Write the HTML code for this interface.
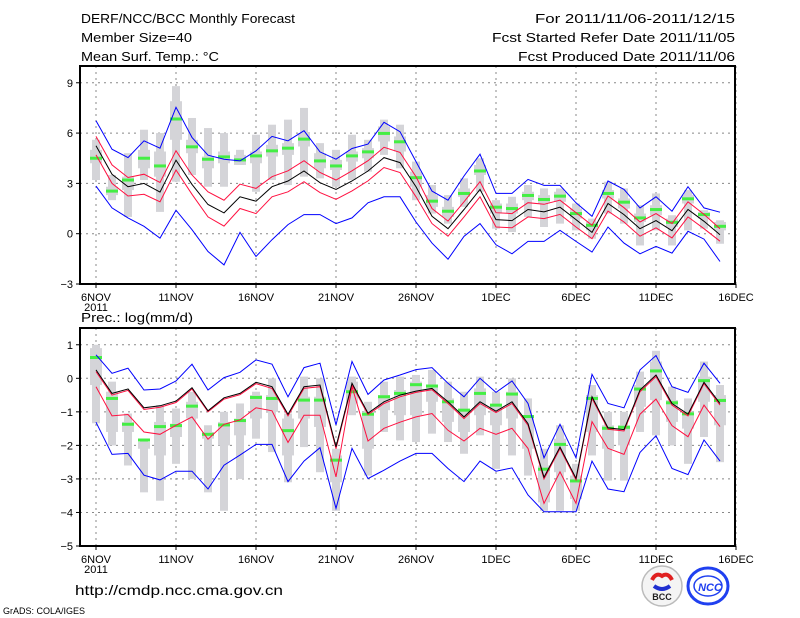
<!DOCTYPE html>
<html><head><meta charset="utf-8"><style>
html,body{margin:0;padding:0;background:#fff;}
svg{display:block;font-family:"Liberation Sans",sans-serif;}
</style></head><body>
<svg id="chart" width="800" height="618" viewBox="0 0 800 618" xmlns="http://www.w3.org/2000/svg">
<g font-size="13" fill="#000">
<text x="81" y="23" textLength="214" lengthAdjust="spacingAndGlyphs">DERF/NCC/BCC Monthly Forecast</text>
<text x="81" y="42" textLength="111" lengthAdjust="spacingAndGlyphs">Member Size=40</text>
<text x="81" y="61" textLength="138" lengthAdjust="spacingAndGlyphs">Mean Surf. Temp.: °C</text>
<text x="735" y="23" text-anchor="end" textLength="200" lengthAdjust="spacingAndGlyphs">For 2011/11/06-2011/12/15</text>
<text x="735" y="42" text-anchor="end" textLength="243" lengthAdjust="spacingAndGlyphs">Fcst Started Refer Date 2011/11/05</text>
<text x="735" y="61" text-anchor="end" textLength="217" lengthAdjust="spacingAndGlyphs">Fcst Produced Date 2011/11/06</text>
<text x="81" y="322" textLength="112" lengthAdjust="spacingAndGlyphs">Prec.: log(mm/d)</text>
</g>
<g id="top"></g>
<g id="bot"></g>
<text x="75" y="595" font-size="14" textLength="208" lengthAdjust="spacingAndGlyphs">http://cmdp.ncc.cma.gov.cn</text>
<text x="3" y="614" font-size="9">GrADS: COLA/IGES</text>
<g>
<circle cx="662" cy="586" r="20" fill="#f4f4f4" stroke="#bbb" stroke-width="1.5"/>
<path d="M652 580 q4 -8 10 -4 q6 -4 10 4" fill="none" stroke="#e02020" stroke-width="4"/>
<path d="M654 586 q8 6 16 0" fill="none" stroke="#2030d0" stroke-width="4"/>
<text x="662" y="600" font-size="9" font-weight="bold" text-anchor="middle" fill="#222">BCC</text>
</g>
<g>
<ellipse cx="708" cy="586" rx="20" ry="18" fill="#fff" stroke="#2040f0" stroke-width="3"/>
<ellipse cx="708" cy="586" rx="14" ry="10" fill="none" stroke="#2040f0" stroke-width="1.5"/>
<text x="710" y="591" font-size="11" font-weight="bold" font-style="italic" text-anchor="middle" fill="#2040f0">NCC</text>
</g>
</svg>
<script>
// ---- temperature panel data (°C) ----
const days = ["6NOV","11NOV","16NOV","21NOV","26NOV","1DEC","6DEC","11DEC","16DEC"];
const tYTicks = [-3,0,3,6,9];
const tMean = [5.24,3.54,2.8,3.0,2.48,4.38,2.94,1.74,1.24,2.2,1.94,2.8,3.14,3.74,3.04,2.64,3.14,3.74,4.54,4.24,2.8,1.04,0.3,1.44,2.64,0.84,0.78,1.44,1.3,1.58,0.84,0.08,1.8,1.14,0.3,0.78,0.18,1.44,0.74,-0.06];
const tRedHi = [5.8,4.1,3.35,3.55,3.05,4.95,3.5,2.5,2.0,2.95,2.7,3.4,3.75,4.35,3.65,3.2,3.75,4.35,5.15,4.85,3.4,1.5,0.75,1.9,3.1,1.25,1.2,1.85,1.75,2.0,1.25,0.5,2.25,1.55,0.7,1.2,0.6,1.9,1.15,0.3];
const tRedLo = [4.7,3.0,2.25,2.35,1.9,3.8,2.35,1.0,0.45,1.5,1.2,2.2,2.5,3.1,2.45,2.05,2.55,3.15,3.95,3.65,2.2,0.6,-0.15,1.0,2.2,0.4,0.35,1.0,0.9,1.15,0.4,-0.3,1.35,0.7,-0.15,0.35,-0.25,1.0,0.3,-0.45];
const tBlueHi = [6.74,5.04,4.54,5.54,5.1,7.54,5.74,4.68,4.44,4.34,4.94,5.8,5.54,6.14,4.88,4.44,5.08,5.34,6.64,6.08,4.3,2.54,2.0,3.44,4.74,2.4,2.4,3.24,2.88,2.88,1.84,1.04,3.14,2.64,1.54,2.2,1.34,2.8,1.54,1.28];
const tBlueLo = [2.84,1.54,0.94,0.44,-0.26,1.4,0.24,-1.06,-1.86,0.08,-1.36,-0.36,0.54,1.14,1.14,0.6,0.94,1.84,2.2,2.2,0.7,-0.56,-1.52,-0.16,0.6,-0.66,-1.2,-0.46,-0.46,0.2,-0.46,-1.1,0.4,-0.56,-1.2,-0.76,-1.16,0.14,-0.32,-1.66];
const tGreen = [4.5,2.54,3.2,4.5,4.04,6.84,5.18,4.44,4.58,4.4,4.64,4.94,5.1,5.64,4.34,4.04,4.64,4.88,5.98,5.48,3.34,1.94,1.34,2.4,3.74,1.58,1.5,2.28,2.04,2.24,1.2,0.5,2.4,1.88,0.94,1.44,0.68,2.08,1.14,0.44];
const tMax = [5.6,3.5,4.8,6.2,6.0,8.8,6.9,6.3,6.0,5.0,5.9,6.5,6.8,7.5,5.4,5.0,5.9,5.6,6.8,6.5,4.3,2.9,2.3,3.3,4.5,2.0,2.2,2.9,2.7,2.7,1.8,0.9,3.1,2.7,1.7,2.4,1.1,2.6,1.4,0.8];
const tMin = [3.2,2.0,1.0,3.2,1.3,3.1,3.5,2.8,2.8,4.1,2.5,3.2,2.9,3.4,3.3,2.8,3.2,3.7,4.7,3.9,2.0,1.2,0.6,1.6,2.5,0.3,0.1,1.0,0.4,0.6,0.2,-0.3,1.2,0.6,-0.7,0.2,-0.7,0.2,0.3,-0.6];
const tQ3 = [5.0,2.8,3.4,5.0,4.9,7.9,5.6,4.6,4.9,4.7,4.9,5.3,5.4,6.0,4.8,4.4,4.9,5.1,6.4,5.8,3.7,2.3,1.6,2.7,4.1,1.8,1.8,2.5,2.3,2.5,1.5,0.7,2.6,2.1,1.2,1.7,0.9,2.3,1.3,0.7];
const tQ1 = [4.2,2.3,2.6,3.9,3.4,5.6,4.8,3.9,4.2,4.1,4.2,4.6,4.7,5.2,3.9,3.8,4.3,4.5,5.5,4.9,2.8,1.6,1.0,2.2,3.5,1.2,1.2,2.0,1.8,1.9,0.9,0.2,2.1,1.5,0.7,1.1,0.4,1.8,0.9,0.2];
// ---- precipitation panel data (log mm/d) ----
const pYTicks = [-5,-4,-3,-2,-1,0,1];
const pMean = [0.25,-0.45,-0.32,-0.88,-0.82,-0.68,-0.28,-0.97,-0.58,-0.45,-0.12,-0.25,-1.07,-0.25,-0.2,-2.04,-0.15,-1.04,-0.7,-0.5,-0.38,-0.3,-0.7,-1.15,-0.7,-0.98,-0.7,-1.35,-2.95,-2.05,-2.98,-0.55,-1.48,-1.53,-0.35,0.1,-0.75,-1.07,-0.12,-0.75];
const pRedHi = [0.2,-0.5,-0.36,-0.93,-0.86,-0.72,-0.32,-1.0,-0.62,-0.49,-0.16,-0.3,-1.12,-0.3,-0.25,-2.1,-0.2,-1.08,-0.75,-0.55,-0.42,-0.34,-0.75,-1.2,-0.75,-1.02,-0.75,-1.4,-3.0,-2.1,-3.03,-0.6,-1.52,-1.57,-0.4,0.05,-0.8,-1.12,-0.16,-0.8];
const pRedLo = [-0.25,-1.12,-1.08,-1.6,-1.67,-1.4,-1.15,-1.82,-1.37,-1.24,-0.88,-0.97,-1.91,-1.1,-1.1,-2.94,-0.25,-1.87,-1.49,-1.31,-1.15,-1.05,-1.55,-1.87,-1.49,-1.67,-1.49,-2.09,-3.73,-2.79,-3.73,-1.29,-2.09,-2.27,-1.07,-0.62,-1.41,-1.74,-0.8,-1.44];
const pBlueHi = [0.7,0.15,0.3,-0.35,-0.32,-0.08,0.42,-0.35,0.02,0.18,0.55,0.42,-0.55,0.32,0.45,-1.39,0.5,-0.48,-0.05,0.1,0.26,0.32,-0.15,-0.55,0,-0.42,-0.08,-0.75,-2.37,-1.37,-2.37,0.12,-0.75,-0.88,0.25,0.68,-0.25,-0.42,0.45,-0.15];
const pBlueLo = [-1.31,-2.27,-2.24,-2.89,-3.03,-2.77,-2.77,-3.3,-2.59,-2.29,-1.97,-1.97,-3.08,-2.47,-2.07,-3.88,-2.09,-2.99,-2.74,-2.47,-2.24,-2.24,-2.69,-3.08,-2.47,-2.77,-2.67,-3.48,-3.98,-3.98,-3.98,-2.47,-3.3,-3.38,-2.21,-1.71,-2.69,-2.87,-1.84,-2.47];
const pGreen = [0.62,-0.6,-1.37,-1.84,-1.44,-1.41,-0.83,-1.67,-1.39,-1.26,-0.57,-0.6,-1.56,-0.65,-0.65,-2.44,-0.4,-1.07,-0.55,-0.45,-0.19,-0.23,-0.7,-0.95,-0.45,-0.8,-0.47,-1.14,-2.71,-1.97,-3.06,-0.6,-1.49,-1.46,-0.32,0.22,-0.73,-1.06,-0.07,-0.66];
const pMax = [1.0,-0.1,-1.05,-1.8,-0.8,-0.9,-0.4,-1.4,-1.0,-0.75,-0.4,0,-1.05,0.05,0,-2.1,0.05,-0.7,-0.1,0.05,0.1,0.25,-0.1,-0.4,0.05,-0.4,0,-0.6,-2.1,-1.4,-2.55,-0.2,-1.0,-1.0,0.2,0.82,-0.25,-0.6,0.5,-0.2];
const pMin = [-1.34,-2.0,-2.6,-3.4,-3.65,-2.55,-3.0,-3.4,-3.95,-3.0,-1.8,-2.2,-3.1,-2.05,-2.8,-3.95,-1.1,-2.9,-1.6,-1.85,-1.9,-1.65,-1.9,-2.25,-1.7,-2.7,-2.3,-2.9,-3.95,-3.95,-3.95,-2.3,-3.05,-3.05,-1.6,-1.7,-2.0,-2.55,-1.75,-2.5];
const pQ3 = [0.9,-0.4,-1.3,-1.9,-1.3,-1.35,-0.7,-1.6,-1.3,-1.2,-0.5,-0.5,-1.2,-0.55,-0.55,-2.3,-0.1,-1.0,-0.5,-0.35,-0.1,-0.2,-0.6,-0.9,-0.3,-0.8,-0.4,-1.1,-2.6,-1.8,-2.9,-0.5,-1.4,-1.4,-0.2,0.5,-0.65,-1.0,0.05,-0.5];
const pQ1 = [-0.2,-1.6,-1.6,-2.1,-2.3,-1.75,-1.2,-1.8,-2.0,-1.7,-1.2,-1.0,-2.3,-1.2,-1.45,-3.1,-0.75,-2.1,-0.95,-1.1,-1.1,-0.7,-1.3,-1.6,-1.1,-1.4,-1.2,-2.1,-3.7,-2.8,-3.6,-1.6,-2.1,-2.0,-0.85,-0.65,-1.3,-1.5,-0.7,-1.4];

const NS="http://www.w3.org/2000/svg";
const X0=96, DX=16, FL=80, FR=735;
function xs(i){return X0+i*DX;}
function mk(tag,attrs,parent){const e=document.createElementNS(NS,tag);for(const k in attrs)e.setAttribute(k,attrs[k]);parent.appendChild(e);return e;}

function panel(g,top,bottom,ymin,ymax,ticks,S){
  const ys=v=>bottom-(v-ymin)/(ymax-ymin)*(bottom-top);
  const ysTop = ys(ymax);
  // grid
  for(let k=0;k<days.length;k++){const x=xs(k*5);
    const l=mk('line',{x1:x,x2:x,y1:top,y2:bottom,stroke:'#888','stroke-width':1,'stroke-dasharray':'2,4'},g);
    
    }
  ticks.forEach(t=>{const y=ys(t);
    const l=mk('line',{x1:FL,x2:FR,y1:y,y2:y,stroke:'#888','stroke-width':1,'stroke-dasharray':'2,4'},g);
    
    
    const tk=mk('line',{x1:FL-4,x2:FL,y1:y,y2:y,stroke:'#000','stroke-width':1},g);
    
    
    const tx=mk('text',{x:FL-7,y:y+4,'font-size':11,'text-anchor':'end'},g);
    tx.textContent=(t<0?'\u2212'+(-t):t);
    
    });
  // boxes
  for(let i=0;i<S.mean.length;i++){const x=xs(i);
    const w=mk('rect',{x:x-4,y:ys(S.max[i]),width:8,height:Math.max(1,ys(S.min[i])-ys(S.max[i])),fill:'#d4d4d8'},g);
    
    
    const b=mk('rect',{x:x-6,y:ys(S.q3[i]),width:12,height:Math.max(1,ys(S.q1[i])-ys(S.q3[i])),fill:'#d4d4d8'},g);
    
    }
  for(let i=0;i<S.mean.length;i++){
    const m=mk('rect',{x:xs(i)-6,y:ys(S.green[i])-1.5,width:12,height:3,fill:'#44ee44'},g);
    
    }
  const lines=[['blueHi','#0000ff','blue-upper-line'],['blueLo','#0000ff','blue-lower-line'],['redHi','#ff1040','red-upper-line'],['redLo','#ff1040','red-lower-line'],['mean','#000','ensemble-mean-line']];
  lines.forEach(([k,c,n])=>{
    const p=mk('polyline',{points:S[k].map((v,i)=>xs(i)+','+ys(v).toFixed(1)).join(' '),fill:'none',stroke:c,'stroke-width':1},g);
    
    });
  // frame
  const f=mk('rect',{x:FL,y:ysTop,width:FR-FL,height:bottom-ysTop,fill:'none',stroke:'#000','stroke-width':2},g);
  
  
  days.forEach((d,k)=>{const x=xs(k*5);
    const tk=mk('line',{x1:x,x2:x,y1:bottom,y2:bottom+4,stroke:'#000'},g);
    
    
    const t=mk('text',{x:x,y:bottom+17,'font-size':11,'text-anchor':'middle'},g);
    t.textContent=d;
    
    });
  const yr=mk('text',{x:xs(0),y:bottom+27,'font-size':11,'text-anchor':'middle'},g);
  yr.textContent='2011';
  
  
}
panel(document.getElementById('top'),66,284,-3,10,tYTicks,{mean:tMean,redHi:tRedHi,redLo:tRedLo,blueHi:tBlueHi,blueLo:tBlueLo,green:tGreen,max:tMax,min:tMin,q3:tQ3,q1:tQ1});
panel(document.getElementById('bot'),328,546,-5,1.5,pYTicks,{mean:pMean,redHi:pRedHi,redLo:pRedLo,blueHi:pBlueHi,blueLo:pBlueLo,green:pGreen,max:pMax,min:pMin,q3:pQ3,q1:pQ1});
</script>
</body></html>
